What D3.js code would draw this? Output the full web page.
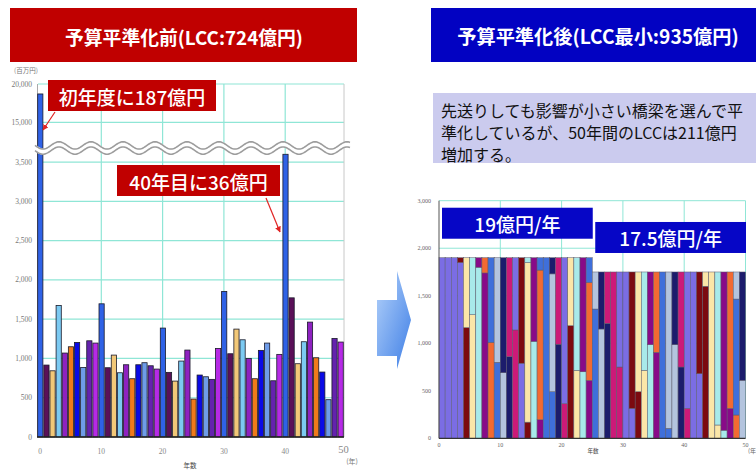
<!DOCTYPE html>
<html><head><meta charset="utf-8">
<script src="https://cdn.jsdelivr.net/npm/d3@7"></script>
<style>
html,body{margin:0;padding:0;background:#fff;}
svg{display:block;font-family:"Noto Sans CJK JP","Noto Sans",sans-serif;}
</style></head><body>
<svg id="chart" width="756" height="470"></svg>
<script>
// ---------- data: before levelling (百万円 per year) ----------
const yearsBefore = d3.range(0, 50);
const costBefore = [18700, 916, 843, 1675, 1069, 1149, 1204, 886, 1225, 1196,
                    1696, 882, 1043, 818, 920, 742, 920, 946, 907, 865,
                    1387, 823, 712, 967, 1107, 483, 789, 767, 734, 1128,
                    1853, 1060, 1374, 1238, 1001, 742, 1103, 1196, 716, 1052,
                    3600, 1772, 933, 1213, 1463, 1009, 827, 475, 1255, 1209];
const beforeTicks = [0, 500, 1000, 1500, 2000, 2500, 3000, 3500, 15000, 20000];
const yearTicks = [0, 10, 20, 30, 40, 50];
const barPalette = ["#2f62e6", "#5a1058", "#f2c878", "#7ccaf2", "#8e22c0",
                    "#f07a1a", "#0a0ae6", "#6e9ce8", "#6422ae", "#b62ae6"];

// ---------- data: after levelling (stacked bridges per year) ----------
const yearsAfter = d3.range(0, 50);
const stackCodes = ["A","A","A","AB","BC","CD","DE","EF","FG","GH",
                    "HI","IJ","JA","AB","BCD","DE","EFG","G","GHI","IJ",
                    "JA","BC","CD","DE","EFG","GH","HI","IJ","J","JA",
                    "A","AB","BC","CD","DE","EF","G","GH","HI","IJ",
                    "JA","A","AB","BC","C","CD","DE","EF","FGH","HI"];
const stackTops = [[1900],[1900],[1900],[1850,1900],[1165,1900],[1300,1900],[1800,1900],[1740,1900],[1010,1900],[800,1900],
                   [690,1900],[860,1900],[1140,1900],[790,1900],[170,1850,1900],[1020,1900],[195,1770,1900],[1900],[490,1730,1900],[990,1900],
                   [365,1900],[1185,1900],[715,1900],[700,1900],[610,1640,1900],[1360,1750],[1150,1750],[1210,1750],[1750],[750,1750],
                   [1750],[315,1750],[490,1750],[715,1750],[985,1750],[905,1750],[1750],[105,1750],[985,1750],[750,1750],
                   [315,1750],[1750],[680,1750],[1600,1750],[1750],[140,1750],[85,1750],[315,1750],[245,1465,1750],[610,1750]];
const bridgeColors = {A:"#7b6de4", B:"#7c0a10", C:"#fbe6a8", D:"#a8eaea", E:"#880a88",
                      F:"#f26a32", G:"#3f6fda", H:"#b4c4de", I:"#1c1c6c", J:"#cc1a78"};
const afterTicks = [0, 500, 1000, 1500, 2000, 2500];
const afterTickLabels = ["0", "500", "1,000", "1,500", "2,000", "3,000"];
const levelLabels = ["19億円/年", "17.5億円/年"];
const levelValues = [1900, 1750];
const levelSpans = [[0, 25], [25, 50]];

const svg = d3.select("#chart");
const grid = "#8fe6d6";

// ---------- headers ----------
svg.append("rect").attr("x", 10).attr("y", 8).attr("width", 347).attr("height", 54).attr("fill", "#c00000");
svg.append("text").attr("x", 184).attr("y", 36).attr("text-anchor", "middle").attr("dominant-baseline", "central")
  .attr("fill", "#fff").attr("font-size", 18.8).attr("font-weight", "bold").text("予算平準化前(LCC:724億円)");
svg.append("rect").attr("x", 431).attr("y", 8).attr("width", 325).attr("height", 54).attr("fill", "#0202c2");
svg.append("text").attr("x", 598).attr("y", 36).attr("text-anchor", "middle").attr("dominant-baseline", "central")
  .attr("fill", "#fff").attr("font-size", 19.2).attr("font-weight", "bold").text("予算平準化後(LCC最小:935億円)");

// note box
svg.append("rect").attr("x", 433).attr("y", 93).attr("width", 323).attr("height", 70).attr("fill", "#cbcbee");
const noteLines = ["先送りしても影響が小さい橋梁を選んで平", "準化しているが、50年間のLCCは211億円", "増加する。"];
svg.append("g").selectAll("text").data(noteLines).join("text")
  .attr("x", 441).attr("y", (d, i) => 110 + i * 22).attr("dominant-baseline", "central")
  .attr("font-size", 16).attr("fill", "#111").text(d => d);

// ---------- left chart: before levelling ----------
const xL = d3.scaleLinear().domain([0, 50]).range([40, 346.5]);
// broken value axis: lower part 0–3,680, upper part 11,650–20,000
const yL = d3.scaleLinear().domain([0, 3680, 11650, 20000]).range([437, 148, 148, 84]);
const left = svg.append("g");

left.selectAll("line.h").data(beforeTicks.slice(1)).join("line").attr("class", "h")
  .attr("x1", 38).attr("x2", 344).attr("y1", d => yL(d)).attr("y2", d => yL(d))
  .attr("stroke", grid).attr("stroke-width", 1.2);
left.selectAll("line.v").data(yearTicks.slice(1, 5)).join("line").attr("class", "v")
  .attr("x1", d => xL(d)).attr("x2", d => xL(d)).attr("y1", yL(20000)).attr("y2", yL(0))
  .attr("stroke", grid).attr("stroke-width", 1.2);
left.append("line").attr("x1", 344).attr("x2", 344).attr("y1", yL(20000)).attr("y2", yL(0)).attr("stroke", "#c8c8c8");
left.append("line").attr("x1", 37.5).attr("x2", 37.5).attr("y1", yL(20000)).attr("y2", yL(0)).attr("stroke", "#aaa");

left.selectAll("text.yt").data(beforeTicks).join("text").attr("class", "yt")
  .attr("x", 32).attr("y", d => yL(d)).attr("text-anchor", "end").attr("dominant-baseline", "central")
  .attr("font-family", "Liberation Serif").attr("font-size", 7.5).attr("fill", "#777").text(d => d3.format(",")(d));
left.append("text").attr("x", 26).attr("y", 70).attr("text-anchor", "middle").attr("dominant-baseline", "central")
  .attr("font-size", 6.5).attr("fill", "#777").text("(百万円)");
left.selectAll("text.xt").data(yearTicks).join("text").attr("class", "xt")
  .attr("x", d => xL(d) - (d === 50 ? 3 : 0)).attr("y", d => d === 50 ? 449 : 451).attr("text-anchor", "middle").attr("dominant-baseline", "central")
  .attr("font-family", "Liberation Serif").attr("font-size", d => d === 50 ? 10.5 : 7.5).attr("fill", "#888").text(d => d);
left.append("text").attr("x", 352).attr("y", 461).attr("text-anchor", "middle").attr("dominant-baseline", "central")
  .attr("font-size", 7).attr("fill", "#777").text("(年)");
left.append("text").attr("x", 190).attr("y", 465).attr("text-anchor", "middle").attr("dominant-baseline", "central")
  .attr("font-size", 6.5).attr("fill", "#444").text("年数");

left.selectAll("rect.bar").data(yearsBefore).join("rect").attr("class", "bar")
  .attr("x", d => xL(d) + 0.3 - 2.6).attr("width", 5.2)
  .attr("y", d => yL(costBefore[d])).attr("height", d => yL(0) - yL(costBefore[d]))
  .attr("fill", d => barPalette[d % 10]).attr("stroke", "#1a1a2a").attr("stroke-width", 0.8);
left.append("line").attr("x1", 37).attr("x2", 344).attr("y1", yL(0)).attr("y2", yL(0)).attr("stroke", "#222").attr("stroke-width", 1.5);

// break marker across the axis
const wave = d3.range(35, 351, 1).map(x => [x, 148 + 3.6 * Math.sin((x - 35) / 32 * 2 * Math.PI)]);
const waveLine = d3.line();
left.append("path").attr("d", waveLine(wave)).attr("fill", "none").attr("stroke", "#fff").attr("stroke-width", 6);
[-2.6, 2.6].forEach(off => {
  left.append("path").attr("d", waveLine(wave.map(p => [p[0], p[1] + off])))
    .attr("fill", "none").attr("stroke", "#9c9c9c").attr("stroke-width", 1.6);
});

// callouts
const defs = svg.append("defs");
defs.append("marker").attr("id", "ah").attr("viewBox", "0 0 10 10").attr("refX", 9).attr("refY", 5)
  .attr("markerWidth", 5).attr("markerHeight", 5).attr("orient", "auto")
  .append("path").attr("d", "M0,0L10,5L0,10z").attr("fill", "#e02424");
const callouts = [
  {text: "初年度に187億円", x: 48, y: 80, w: 168, h: 31, from: [55, 112], to: [43, 130]},
  {text: "40年目に36億円", x: 117, y: 165, w: 163, h: 31, from: [266, 198], to: [280, 232]}
];
callouts.forEach(c => {
  left.append("rect").attr("x", c.x).attr("y", c.y).attr("width", c.w).attr("height", c.h).attr("fill", "#c00000");
  left.append("text").attr("x", c.x + c.w / 2).attr("y", c.y + c.h / 2 + 0.5).attr("text-anchor", "middle")
    .attr("dominant-baseline", "central").attr("fill", "#fff").attr("font-size", 19).attr("font-weight", 500).text(c.text);
  left.append("line").attr("x1", c.from[0]).attr("y1", c.from[1]).attr("x2", c.to[0]).attr("y2", c.to[1])
    .attr("stroke", "#e02424").attr("stroke-width", 1.2).attr("marker-end", "url(#ah)");
});

// ---------- transition arrow ----------
const grad = defs.append("linearGradient").attr("id", "arrowGrad").attr("x1", 0).attr("y1", 0).attr("x2", 1).attr("y2", 1);
grad.append("stop").attr("offset", 0).attr("stop-color", "#b4d2fa");
grad.append("stop").attr("offset", 1).attr("stop-color", "#3f7fe6");
svg.append("path").attr("d", "M377,300L397,300L397,271L411,320L397,369L397,356L377,356Z").attr("fill", "url(#arrowGrad)");

// ---------- right chart: after levelling ----------
const xR = d3.scaleLinear().domain([0, 50]).range([439, 745.5]);
const yR = d3.scaleLinear().domain([0, 2500]).range([438.3, 200.7]);
const right = svg.append("g");

right.selectAll("line.h").data(afterTicks.slice(1)).join("line").attr("class", "h")
  .attr("x1", xR(0)).attr("x2", xR(50)).attr("y1", d => yR(d)).attr("y2", d => yR(d))
  .attr("stroke", grid).attr("stroke-width", 1);
right.selectAll("line.v").data(yearTicks.slice(1)).join("line").attr("class", "v")
  .attr("x1", d => xR(d)).attr("x2", d => xR(d)).attr("y1", yR(2500)).attr("y2", yR(0))
  .attr("stroke", grid).attr("stroke-width", 1);

const segs = [];
yearsAfter.forEach(yr => {
  let base = 0;
  stackTops[yr].forEach((top, k) => {
    segs.push({yr, lo: base, hi: top, code: stackCodes[yr][k]});
    base = top;
  });
});
right.selectAll("rect.seg").data(segs).join("rect").attr("class", "seg")
  .attr("x", d => xR(d.yr)).attr("width", xR(1) - xR(0))
  .attr("y", d => yR(d.hi)).attr("height", d => yR(d.lo) - yR(d.hi))
  .attr("fill", d => bridgeColors[d.code]).attr("stroke", "#5a5a6a").attr("stroke-width", 0.5);

right.append("line").attr("x1", xR(0)).attr("x2", xR(0)).attr("y1", yR(2500)).attr("y2", yR(0)).attr("stroke", "#555");
right.append("line").attr("x1", xR(0)).attr("x2", xR(50)).attr("y1", yR(0)).attr("y2", yR(0)).attr("stroke", "#333").attr("stroke-width", 1.2);

right.selectAll("text.yt").data(afterTicks).join("text").attr("class", "yt")
  .attr("x", 431).attr("y", d => yR(d)).attr("text-anchor", "end").attr("dominant-baseline", "central")
  .attr("font-family", "Liberation Serif").attr("font-size", 6).attr("fill", "#666").text((d, i) => afterTickLabels[i]);
right.selectAll("text.xt").data(yearTicks).join("text").attr("class", "xt")
  .attr("x", d => xR(d)).attr("y", 445).attr("text-anchor", "middle").attr("dominant-baseline", "central")
  .attr("font-family", "Liberation Serif").attr("font-size", 6).attr("fill", "#666").text(d => d);
right.append("text").attr("x", 593).attr("y", 451).attr("text-anchor", "middle").attr("dominant-baseline", "central")
  .attr("font-size", 5.5).attr("fill", "#444").text("年数");
right.append("text").attr("x", 748).attr("y", 450).attr("dominant-baseline", "central")
  .attr("font-size", 6).attr("fill", "#666").text("(年");

levelLabels.forEach((lab, i) => {
  const x0 = xR(levelSpans[i][0]) + 3, x1 = xR(levelSpans[i][1]) + 0.5;
  const yb = yR(levelValues[i]) - 19;
  right.append("rect").attr("x", x0).attr("y", yb - 31).attr("width", x1 - x0).attr("height", 31).attr("fill", "#0606c6");
  right.append("text").attr("x", (x0 + x1) / 2).attr("y", yb - 15).attr("text-anchor", "middle")
    .attr("dominant-baseline", "central").attr("fill", "#fff").attr("font-size", 19).attr("font-weight", 500).text(lab);
});
</script>
</body></html>
